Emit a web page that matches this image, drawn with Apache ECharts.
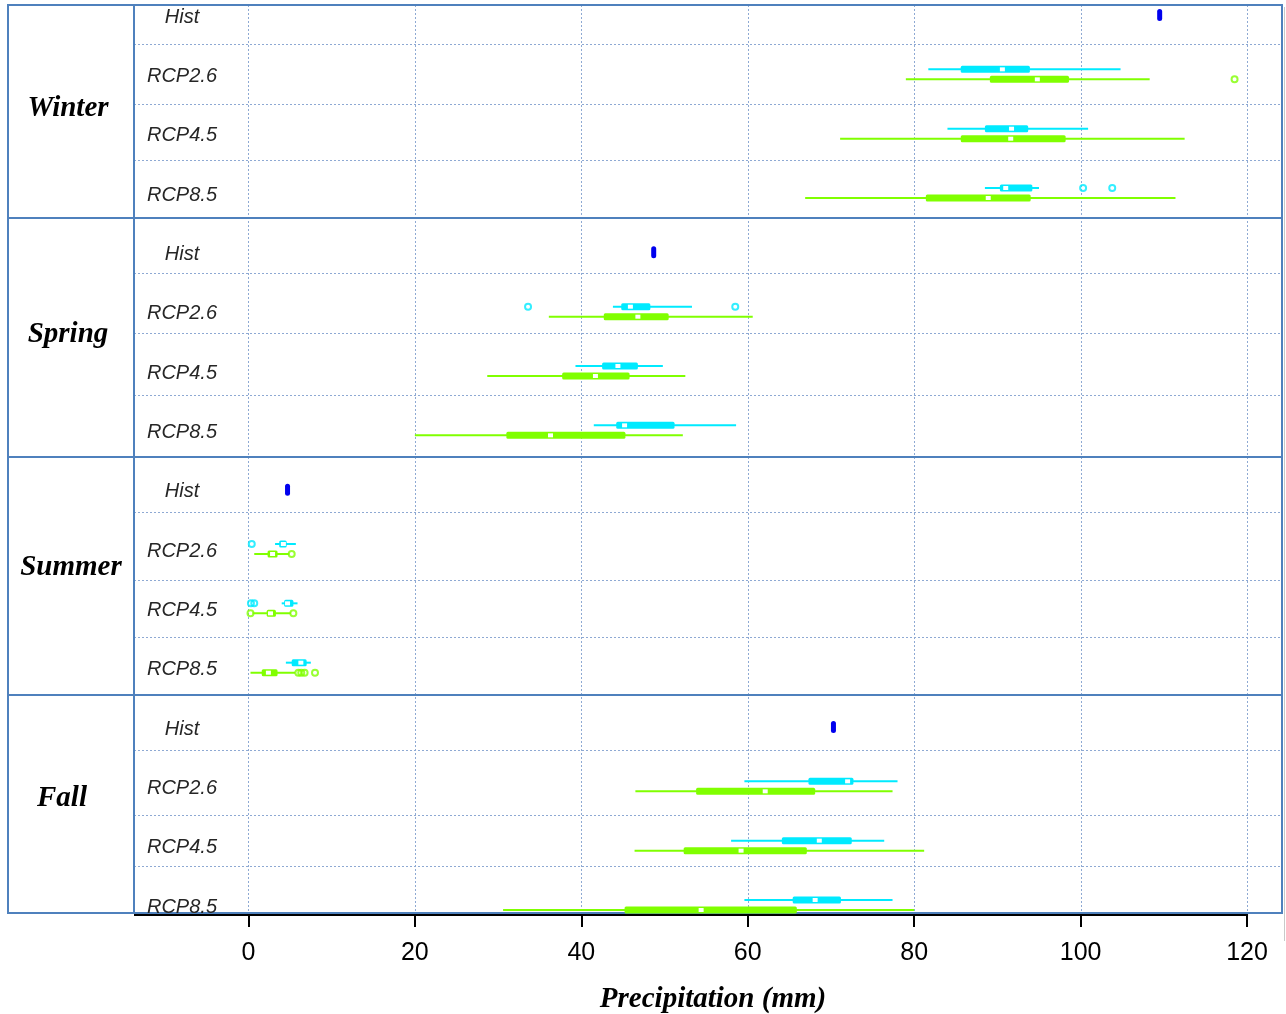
<!DOCTYPE html>
<html>
<head>
<meta charset="utf-8">
<script src="https://cdn.jsdelivr.net/npm/echarts@6/dist/echarts.min.js"></script>
<style>
  html, body { margin: 0; padding: 0; background: #ffffff; }
  #chart { width: 1286px; height: 1014px; }
</style>
</head>
<body>
<div id="chart"></div>
<script>
// ---- data ----
const seasons = ['Winter', 'Spring', 'Summer', 'Fall'];
const scenarios = ['Hist', 'RCP2.6', 'RCP4.5', 'RCP8.5'];
const xTicks = [0, 20, 40, 60, 80, 100, 120];

// historical seasonal precipitation (mm), one value per season
const histValues = [109.5, 48.7, 4.7, 70.3];

// [low whisker, Q1, median, Q3, high whisker] per season, rows RCP2.6 / RCP4.5 / RCP8.5
const cyanBoxes = [
  [[81.7, 85.6, 90.6, 93.9, 104.8], [84.0, 88.5, 91.7, 93.7, 100.9], [88.5, 90.3, 91.0, 94.2, 95.0]],
  [[43.8, 44.8, 45.9, 48.3, 53.3], [39.3, 42.5, 44.4, 46.8, 49.8], [41.5, 44.2, 45.2, 51.2, 58.6]],
  [[3.2, 3.7, 4.2, 4.6, 5.7], [4.0, 4.3, 4.7, 5.4, 5.9], [4.5, 5.2, 6.3, 7.0, 7.5]],
  [[59.6, 67.3, 72.0, 72.7, 78.0], [58.0, 64.1, 68.6, 72.5, 76.4], [59.6, 65.4, 68.1, 71.2, 77.4]]
];
const cyanOutliers = [
  [[], [], [100.3, 103.8]],
  [[33.6, 58.5], [], []],
  [[0.4], [0.3, 0.7], []],
  [[], [], []]
];
const greenBoxes = [
  [[79.0, 89.1, 94.8, 98.6, 108.3], [71.1, 85.6, 91.6, 98.2, 112.5], [66.9, 81.4, 88.9, 94.0, 111.4]],
  [[36.1, 42.7, 46.8, 50.5, 60.6], [28.7, 37.7, 41.7, 45.8, 52.5], [20.0, 31.0, 36.3, 45.3, 52.2]],
  [[0.7, 2.3, 2.9, 3.5, 4.9], [0.5, 2.2, 2.65, 3.3, 5.1], [0.25, 1.6, 2.4, 3.5, 5.6]],
  [[46.5, 53.8, 62.1, 68.1, 77.4], [46.4, 52.3, 59.2, 67.1, 81.2], [30.6, 45.2, 54.4, 65.9, 80.0]]
];
const greenOutliers = [
  [[118.5], [], []],
  [[], [], []],
  [[5.2], [0.25, 5.4], [6.0, 6.35, 6.75, 8.0]],
  [[], [], []]
];

// ---- layout (row units: one unit per scenario row) ----
const ROW_MIN = -0.169, ROW_MAX = 15.135;
const X_MIN = -13.75, X_MAX = 124.2;
const rowDividers = [0.49, 1.5, 2.44, 4.35, 5.36, 6.40, 8.38, 9.52, 10.48, 12.39, 13.48, 14.34];
const panelEdges = [-0.169, 3.42, 7.45, 11.46, 15.135];
const seasonNudge = [[0, -3], [0, -3], [3, -8], [-6, -5]];   // px shifts of the season names
const LABEL_COL = 126;       // width of the season-name column, px
const FRAME = '#4f81bd';
const GRIDLINE = '#8ea9d3';
const CYAN = '#00eaff';
const GREEN = '#80ff00';
const HIST = '#0000ee';
const BOX_SHIFT = 5;         // vertical shift of the paired boxes, px

// ---- build series data ----
const rowOf = (s, k) => s * 4 + k;
const histData = histValues.map((v, s) => [v, rowOf(s, 0)]);

function boxData(boxes, dir) {
  const out = [];
  boxes.forEach((rows, s) => rows.forEach((b, k) => {
    out.push([rowOf(s, k + 1), b[0], b[1], b[2], b[3], b[4], dir]);
  }));
  return out;
}
function outlierData(outs) {
  const out = [];
  outs.forEach((rows, s) => rows.forEach((list, k) => {
    list.forEach(v => out.push([v, rowOf(s, k + 1)]));
  }));
  return out;
}

function renderBox(color) {
  return function (params, api) {
    const row = api.value(0);
    const yC = api.coord([0, row])[1] + api.value(6) * BOX_SHIFT;
    const px = i => api.coord([api.value(i), row])[0];
    const xl = px(1), q1 = px(2), md = px(3), q3 = px(4), xh = px(5);
    return {
      type: 'group',
      children: [
        { type: 'line', shape: { x1: xl, y1: yC, x2: xh, y2: yC }, style: { stroke: color, lineWidth: 2 } },
        { type: 'rect', shape: { x: q1, y: yC - 3.5, width: q3 - q1, height: 7, r: 1.5 }, style: { fill: color } },
        { type: 'rect', shape: { x: md - 2.5, y: yC - 2, width: 5, height: 4 }, style: { fill: '#ffffff' } }
      ]
    };
  };
}

function renderFrame(params, api) {
  const gx0 = api.coord([X_MIN, 0])[0];
  const gx1 = api.coord([X_MAX, 0])[0];
  const ox = gx0 - LABEL_COL;
  const yTop = api.coord([0, ROW_MIN])[1];
  const yBot = api.coord([0, ROW_MAX])[1];
  const ch = [];
  // vertical dashed grid lines
  xTicks.forEach(t => {
    const x = Math.round(api.coord([t, 0])[0]) + 0.5;
    ch.push({ type: 'line', shape: { x1: x, y1: yTop, x2: x, y2: yBot },
      style: { stroke: GRIDLINE, lineWidth: 1, lineDash: [2, 2] } });
  });
  // horizontal dashed row dividers
  rowDividers.forEach(r => {
    const y = Math.round(api.coord([0, r])[1]) + 0.5;
    ch.push({ type: 'line', shape: { x1: gx0, y1: y, x2: gx1, y2: y },
      style: { stroke: GRIDLINE, lineWidth: 1, lineDash: [2, 2] } });
  });
  // soft shadow along the right edge
  ch.push({ type: 'line', shape: { x1: gx1 + 2.5, y1: yTop + 2, x2: gx1 + 2.5, y2: yBot + 28 },
    style: { stroke: '#c9c9c9', lineWidth: 1 } });
  // season panel borders
  panelEdges.forEach(r => {
    const y = api.coord([0, r])[1];
    ch.push({ type: 'line', shape: { x1: ox, y1: y, x2: gx1, y2: y },
      style: { stroke: FRAME, lineWidth: 2 } });
  });
  [ox, gx0, gx1].forEach(x => {
    ch.push({ type: 'line', shape: { x1: x, y1: yTop - 1, x2: x, y2: yBot + 1 },
      style: { stroke: FRAME, lineWidth: 2 } });
  });
  // axis baseline, running up to the last tick
  const xEnd = api.coord([xTicks[xTicks.length - 1], 0])[0] + 1;
  ch.push({ type: 'line', shape: { x1: gx0, y1: yBot + 2, x2: xEnd, y2: yBot + 2 },
    style: { stroke: '#000000', lineWidth: 2 } });
  // season names
  seasons.forEach((name, s) => {
    const y = (api.coord([0, panelEdges[s]])[1] + api.coord([0, panelEdges[s + 1]])[1]) / 2;
    ch.push({ type: 'text', x: ox + 60 + seasonNudge[s][0], y: y + seasonNudge[s][1],
      style: { text: name, fontFamily: '"Liberation Serif", "Times New Roman", serif', fontSize: 29,
        fontWeight: 'bold', fontStyle: 'italic', fill: '#000000', align: 'center', verticalAlign: 'middle' } });
  });
  // scenario names
  seasons.forEach((_, s) => scenarios.forEach((sc, k) => {
    const y = api.coord([0, rowOf(s, k)])[1] + 2;
    ch.push({ type: 'text', x: gx0 + 48, y: y,
      style: { text: sc, fontFamily: '"Liberation Sans", Arial, sans-serif', fontSize: 20,
        fontStyle: 'italic', fill: '#262626', align: 'center', verticalAlign: 'middle' } });
  }));
  return { type: 'group', children: ch };
}

const chart = echarts.init(document.getElementById('chart'), null, { renderer: 'canvas' });
chart.setOption({
  animation: false,
  backgroundColor: '#ffffff',
  grid: { left: 134, right: 4, top: 5, bottom: 101, containLabel: false, outerBoundsMode: 'none' },
  xAxis: {
    type: 'value', min: X_MIN, max: X_MAX, position: 'bottom',
    axisLine: { show: false, onZero: false },
    splitLine: { show: false },
    axisTick: { show: true, customValues: xTicks, length: 14, lineStyle: { color: '#000000', width: 2 } },
    axisLabel: { customValues: xTicks, fontSize: 25, color: '#000000', margin: 28,
      fontFamily: '"Liberation Sans", Arial, sans-serif' },
    name: 'Precipitation (mm)', nameLocation: 'middle', nameGap: 72,
    nameTextStyle: { fontFamily: '"Liberation Serif", "Times New Roman", serif', fontSize: 29,
      fontWeight: 'bold', fontStyle: 'italic', color: '#000000', padding: [0, 0, 0, 10] }
  },
  yAxis: {
    type: 'value', inverse: true, min: ROW_MIN, max: ROW_MAX, show: false
  },
  series: [
    { type: 'custom', name: 'frame', data: [[0, 0]], renderItem: renderFrame, z: 1, silent: true },
    { type: 'custom', name: 'A', data: boxData(cyanBoxes, -1), renderItem: renderBox(CYAN), z: 3,
      encode: { x: [1, 2, 3, 4, 5], y: 0 }, silent: true },
    { type: 'custom', name: 'B', data: boxData(greenBoxes, 1), renderItem: renderBox(GREEN), z: 3,
      encode: { x: [1, 2, 3, 4, 5], y: 0 }, silent: true },
    { type: 'scatter', name: 'A outliers', data: outlierData(cyanOutliers), symbol: 'circle', symbolSize: 6,
      symbolOffset: [0, -BOX_SHIFT], z: 4, silent: true,
      itemStyle: { color: 'rgba(255,255,255,0)', borderColor: CYAN, borderWidth: 2 } },
    { type: 'scatter', name: 'B outliers', data: outlierData(greenOutliers), symbol: 'circle', symbolSize: 6,
      symbolOffset: [0, BOX_SHIFT], z: 4, silent: true,
      itemStyle: { color: 'rgba(255,255,255,0)', borderColor: GREEN, borderWidth: 2 } },
    { type: 'custom', name: 'Hist', data: histData, z: 4, silent: true,
      encode: { x: 0, y: 1 },
      renderItem: function (params, api) {
        const p = api.coord([api.value(0), api.value(1)]);
        return { type: 'rect', shape: { x: p[0] - 2.5, y: p[1] - 6, width: 5, height: 12, r: 2.5 },
          style: { fill: HIST } };
      } }
  ]
});
</script>
</body>
</html>
